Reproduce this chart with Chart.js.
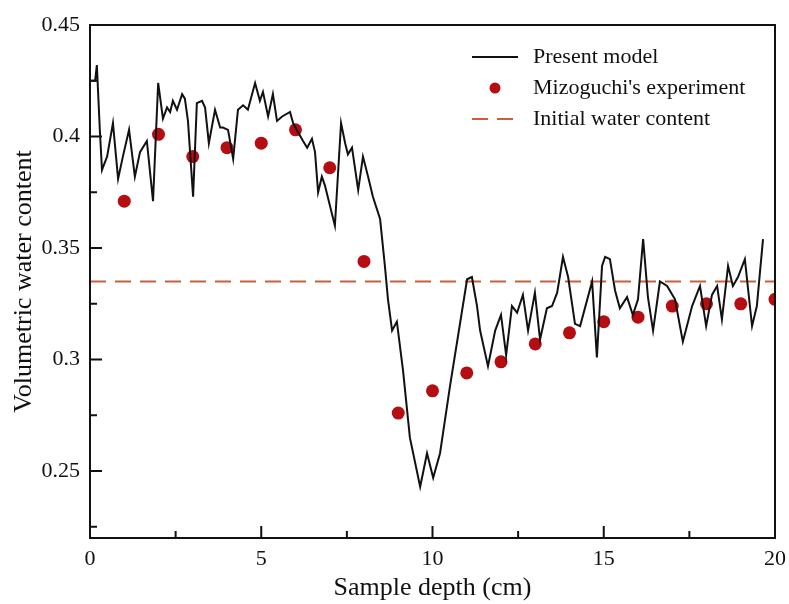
<!DOCTYPE html>
<html>
<head>
<meta charset="utf-8">
<script src="https://cdn.jsdelivr.net/npm/chart.js@4"></script>
<style>
  html, body { margin: 0; padding: 0; background: #fff; }
  #wrap { width: 789px; height: 604px; }
</style>
</head>
<body>
<div id="wrap"><canvas id="myChart" width="789" height="604"></canvas></div>
<script>
// simulated profile (present model)
const modelDepth = [0, 0.15, 0.2, 0.29, 0.35, 0.5, 0.67, 0.82, 0.96, 1.14, 1.31, 1.46, 1.66, 1.84, 1.99, 2.13, 2.25, 2.34, 2.42, 2.54,
    2.69, 2.77, 2.86, 3.01, 3.12, 3.27, 3.36, 3.47, 3.65, 3.8, 3.88, 4.03, 4.18, 4.32, 4.47, 4.61, 4.82, 4.96, 5.05, 5.2,
    5.34, 5.46, 5.61, 5.84, 5.93, 6.07, 6.22, 6.34, 6.48, 6.57, 6.66, 6.77, 6.86, 7.15, 7.33, 7.45, 7.53, 7.65, 7.83, 7.97,
    8.12, 8.26, 8.47, 8.61, 8.7, 8.82, 8.96, 9.14, 9.34, 9.64, 9.84, 10.02, 10.22, 10.51, 11.01, 11.15, 11.3, 11.39, 11.62, 11.83,
    12.0, 12.15, 12.32, 12.47, 12.64, 12.79, 12.99, 13.14, 13.34, 13.49, 13.64, 13.81, 13.96, 14.16, 14.31, 14.66, 14.8, 14.95, 15.04, 15.18,
    15.33, 15.47, 15.68, 15.85, 16.0, 16.15, 16.29, 16.44, 16.64, 16.85, 17.08, 17.31, 17.58, 17.81, 17.99, 18.16, 18.31, 18.45, 18.63, 18.77,
    18.92, 19.12, 19.33, 19.47, 19.65];
const modelWater = [0.425, 0.425, 0.432, 0.402, 0.385, 0.391, 0.406, 0.381, 0.391, 0.403, 0.382, 0.393, 0.398, 0.371, 0.424, 0.408, 0.413, 0.411, 0.416, 0.412,
    0.419, 0.417, 0.407, 0.373, 0.415, 0.416, 0.413, 0.397, 0.412, 0.404, 0.404, 0.403, 0.390, 0.412, 0.414, 0.412, 0.424, 0.416, 0.420, 0.409,
    0.419, 0.407, 0.409, 0.411, 0.406, 0.402, 0.398, 0.395, 0.399, 0.393, 0.375, 0.382, 0.378, 0.360, 0.406, 0.397, 0.392, 0.395, 0.376, 0.391,
    0.382, 0.373, 0.363, 0.342, 0.327, 0.313, 0.317, 0.295, 0.265, 0.243, 0.258, 0.247, 0.258, 0.288, 0.336, 0.337, 0.324, 0.313, 0.297, 0.313,
    0.320, 0.302, 0.324, 0.321, 0.329, 0.313, 0.330, 0.309, 0.323, 0.324, 0.330, 0.346, 0.337, 0.316, 0.315, 0.335, 0.301, 0.342, 0.346, 0.345,
    0.331, 0.323, 0.328, 0.320, 0.327, 0.354, 0.328, 0.313, 0.335, 0.333, 0.327, 0.308, 0.324, 0.333, 0.315, 0.329, 0.333, 0.318, 0.342, 0.333,
    0.337, 0.345, 0.315, 0.324, 0.354];

// measured points
const expDepth = [1, 2, 3, 4, 5, 6, 7, 8, 9, 10, 11, 12, 13, 14, 15, 16, 17, 18, 19, 20];
const expWater = [0.371, 0.401, 0.391, 0.395, 0.397, 0.403, 0.386, 0.344, 0.276, 0.286,
    0.294, 0.299, 0.307, 0.312, 0.317, 0.319, 0.324, 0.325, 0.325, 0.327];

const initialWater = 0.335;

const xTicks = [0, 5, 10, 15, 20];
const xMinorTicks = [2.5, 7.5, 12.5, 17.5];
const yTicks = [0.25, 0.3, 0.35, 0.4, 0.45];
const yMinorTicks = [0.225, 0.275, 0.325, 0.375, 0.425];

const serif = '"Liberation Serif", "Times New Roman", serif';

// frame, inward ticks and the legend box
const framePlugin = {
    id: 'frame',
    afterDraw(chart) {
        const ctx = chart.ctx;
        const a = chart.chartArea;
        const xs = chart.scales.x, ys = chart.scales.y;
        ctx.save();
        ctx.strokeStyle = '#111';
        ctx.lineWidth = 2;
        ctx.strokeRect(a.left, a.top, a.right - a.left, a.bottom - a.top);
        ctx.beginPath();
        xTicks.forEach(v => { const px = xs.getPixelForValue(v); ctx.moveTo(px, a.bottom); ctx.lineTo(px, a.bottom - 12); });
        xMinorTicks.forEach(v => { const px = xs.getPixelForValue(v); ctx.moveTo(px, a.bottom); ctx.lineTo(px, a.bottom - 7); });
        yTicks.forEach(v => { const py = ys.getPixelForValue(v); ctx.moveTo(a.left, py); ctx.lineTo(a.left + 12, py); });
        yMinorTicks.forEach(v => { const py = ys.getPixelForValue(v); ctx.moveTo(a.left, py); ctx.lineTo(a.left + 7, py); });
        ctx.stroke();

        // legend
        const ds = chart.data.datasets;
        const x0 = 472, x1 = 518, tx = 533;
        const rows = [57, 88, 119];
        ctx.font = '22px ' + serif;
        ctx.textBaseline = 'middle';
        ctx.fillStyle = '#111';
        ds.forEach((d, i) => {
            const y = rows[i];
            ctx.save();
            if (d.showLine) {
                ctx.strokeStyle = d.borderColor;
                ctx.lineWidth = d.borderWidth;
                ctx.setLineDash(d.borderDash || []);
                ctx.beginPath();
                ctx.moveTo(x0, y);
                ctx.lineTo(x1, y);
                ctx.stroke();
            } else {
                ctx.fillStyle = d.backgroundColor;
                ctx.beginPath();
                ctx.arc((x0 + x1) / 2, y, 5.5, 0, Math.PI * 2);
                ctx.fill();
            }
            ctx.restore();
            ctx.fillText(d.label, tx, y);
        });
        ctx.restore();
    }
};

const ctx = document.getElementById('myChart');
const myChart = new Chart(ctx, {
    type: 'scatter',
    data: {
        datasets: [{
            label: 'Present model',
            data: modelDepth.map((d, i) => ({ x: d, y: modelWater[i] })),
            showLine: true,
            borderColor: '#111',
            borderWidth: 2,
            pointRadius: 0,
            tension: 0
        },
        {
            label: "Mizoguchi's experiment",
            data: expDepth.map((d, i) => ({ x: d, y: expWater[i] })),
            backgroundColor: '#b50d12',
            borderColor: '#b50d12',
            pointRadius: 6.5,
            pointBorderWidth: 0,
            clip: 0
        },
        {
            label: 'Initial water content',
            data: [{ x: xTicks[0], y: initialWater }, { x: xTicks[xTicks.length - 1], y: initialWater }],
            showLine: true,
            borderColor: '#c8603e',
            borderWidth: 2,
            borderDash: [16, 9],
            pointRadius: 0
        }]
    },
    options: {
        responsive: false,
        animation: false,
        layout: { padding: { top: 25, right: 14, left: 0, bottom: 0 } },
        plugins: {
            legend: { display: false },
            tooltip: { enabled: false }
        },
        scales: {
            x: {
                type: 'linear',
                min: 0,
                max: 20,
                afterBuildTicks: s => { s.ticks = xTicks.map(v => ({ value: v })); },
                afterFit: s => { s.height = 66; s.paddingLeft = 0; s.paddingRight = 0; },
                grid: { display: false, drawTicks: false },
                border: { display: false },
                ticks: { color: '#111', padding: 8, font: { family: serif, size: 22 }, maxRotation: 0 },
                title: { display: true, text: 'Sample depth (cm)', color: '#111', padding: { top: 0, bottom: 0 }, font: { family: serif, size: 26 } }
            },
            y: {
                type: 'linear',
                min: 0.22,
                max: 0.45,
                afterBuildTicks: s => { s.ticks = yTicks.map(v => ({ value: v })); },
                afterFit: s => { s.width = 90; s.paddingTop = 0; s.paddingBottom = 0; },
                grid: { display: false, drawTicks: false },
                border: { display: false },
                ticks: { color: '#111', padding: 10, font: { family: serif, size: 22 }, callback: v => String(+v.toFixed(3)) },
                title: { display: true, text: 'Volumetric water content', color: '#111', padding: { top: 9, bottom: 0 }, font: { family: serif, size: 26 } }
            }
        }
    },
    plugins: [framePlugin]
});
</script>
</body>
</html>
